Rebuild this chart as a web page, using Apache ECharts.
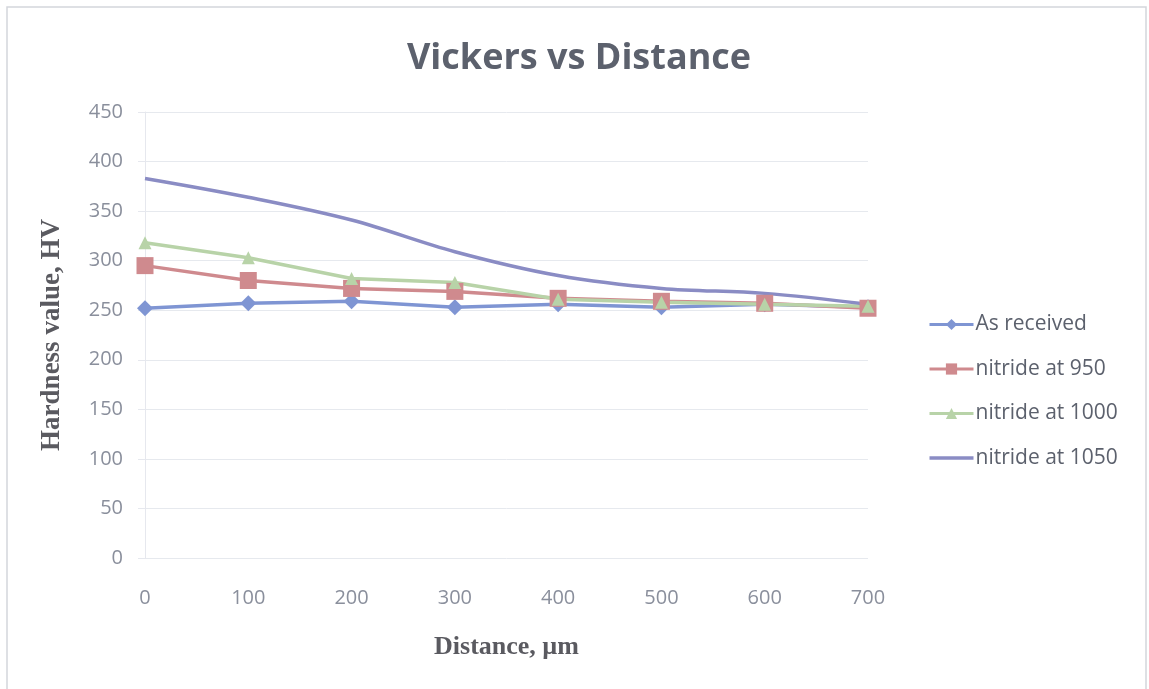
<!DOCTYPE html>
<html><head><meta charset="utf-8">
<script src="https://cdn.jsdelivr.net/npm/echarts@6/dist/echarts.min.js"></script>
<style>html,body{margin:0;padding:0;background:#fff}#c{width:1149px;height:689px}</style>
</head><body><div id="c"></div>
<script>
const distances = [0, 100, 200, 300, 400, 500, 600, 700];
const asReceived = [252, 257, 259, 253, 256, 253, 256, 253];
const nitride950 = [295, 280, 272, 269, 262, 259, 257, 252];
const nitride1000 = [318, 303, 282, 278, 261, 258, 256, 254];
const nitride1050 = [383, 364, 341, 309, 285, 272, 267, 256];
const yTicks = [0, 50, 100, 150, 200, 250, 300, 350, 400, 450];
const seriesNames = ['As received', 'nitride at 950', 'nitride at 1000', 'nitride at 1050'];

const pair = arr => distances.map((d, i) => [d, arr[i]]);
const chart = echarts.init(document.getElementById('c'));
chart.setOption({
  animation: false,
  backgroundColor: '#fff',
  graphic: [{type: 'rect', shape: {x: 7, y: 7, width: 1139, height: 690}, style: {fill: 'none', stroke: '#d4d6dc', lineWidth: 1.5}, z: -1}],
  title: {text: 'Vickers vs Distance', top: 36, left: 574,
    textAlign: 'center',
    textStyle: {fontFamily: 'Open Sans', fontWeight: 'bold', fontSize: 36, color: '#5c616d'}},
  grid: {left: 145, top: 112, width: 723, height: 446},
  legend: {orient: 'vertical', left: 923, top: 309, itemGap: 23.5, itemWidth: 44, itemHeight: 14,
    lineStyle: {width: 3},
    data: [seriesNames[0], seriesNames[1], seriesNames[2],
      {name: seriesNames[3], icon: 'path://M0,0H44V3.5H0Z'}],
    textStyle: {fontFamily: 'Open Sans', fontSize: 21, lineHeight: 21, color: '#5c616d', padding: [0,0,0,-3]}},
  xAxis: {type: 'value', min: 0, max: 700, interval: 100,
    name: 'Distance, µm', nameLocation: 'middle', nameGap: 76,
    nameTextStyle: {fontFamily: 'Liberation Serif', fontWeight: 'bold', fontSize: 26, color: '#5a5a60'},
    axisLine: {show: false}, axisTick: {show: false}, splitLine: {show: false},
    axisLabel: {fontFamily: 'Open Sans', fontSize: 20, color: '#8a8f9c', margin: 30}},
  yAxis: {type: 'value', min: 0, max: 450, interval: 50,
    name: 'Hardness value, HV', nameLocation: 'middle', nameGap: 79, nameRotate: 90,
    nameTextStyle: {fontFamily: 'Liberation Serif', fontWeight: 'bold', fontSize: 27, color: '#5a5a60'},
    axisLine: {show: true, lineStyle: {color: '#e6e8ee'}},
    axisTick: {show: true, length: 7, lineStyle: {color: '#e6e8ee'}},
    splitLine: {lineStyle: {color: '#e6e9ee'}},
    axisLabel: {fontFamily: 'Open Sans', fontSize: 20, color: '#8a8f9c', margin: 22,
      formatter: v => yTicks.includes(v) ? String(v) : ''}},
  series: [
    {name: seriesNames[0], type: 'line', data: pair(asReceived), symbol: 'diamond', symbolSize: 16,
      itemStyle: {color: '#7f95d3'}, lineStyle: {width: 3.5, color: '#7f95d3'}},
    {name: seriesNames[1], type: 'line', data: pair(nitride950), symbol: 'rect', symbolSize: 17,
      itemStyle: {color: '#cf8a8e'}, lineStyle: {width: 3.5, color: '#cf8a8e'}},
    {name: seriesNames[2], type: 'line', data: pair(nitride1000), symbol: 'triangle', symbolSize: 13,
      itemStyle: {color: '#b8d3a8'}, lineStyle: {width: 3.5, color: '#b8d3a8'}},
    {name: seriesNames[3], type: 'line', data: pair(nitride1050), symbol: 'none', smooth: 0.35,
      itemStyle: {color: '#8a8cc4'}, lineStyle: {width: 3.5, color: '#8a8cc4'}}
  ]
});
</script></body></html>
